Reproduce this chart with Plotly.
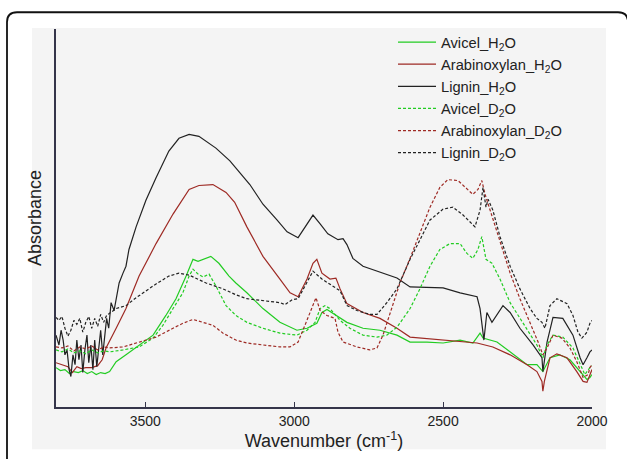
import plotly.graph_objects as go

# ---------------- data (wavenumber in cm-1, absorbance in arbitrary units) ----------------
lig_h2o_x = [3800, 3790, 3783, 3776, 3770, 3763, 3756, 3750, 3743, 3736, 3730, 3723, 3716, 3710, 3703,
             3696, 3690, 3683, 3676, 3670, 3663, 3656, 3650, 3643, 3636, 3630, 3623, 3615, 3605, 3588,
             3575, 3565, 3555, 3531, 3498, 3464, 3421, 3387, 3353, 3320, 3263, 3216, 3149, 3105, 3058,
             3024, 2987, 2957, 2937, 2913, 2887, 2853, 2836, 2823, 2803, 2769, 2722, 2655, 2611, 2500,
             2443, 2386, 2376, 2363, 2353, 2336, 2299, 2275, 2242, 2198, 2168, 2165, 2151, 2131, 2098,
             2064, 2040, 2030, 2017, 2007, 2000]
lig_h2o_y = [0.73, 0.63, 0.78, 0.68, 0.53, 0.58, 0.38, 0.31, 0.53, 0.43, 0.68, 0.48, 0.63, 0.35, 0.58,
             0.73, 0.45, 0.63, 0.38, 0.68, 0.41, 0.65, 0.78, 0.53, 0.73, 0.90, 0.80, 1.06, 0.98, 1.26,
             1.36, 1.43, 1.60, 1.83, 2.10, 2.33, 2.60, 2.73, 2.77, 2.75, 2.63, 2.50, 2.26, 2.06, 1.90,
             1.78, 1.72, 1.86, 1.95, 1.86, 1.76, 1.70, 1.71, 1.65, 1.51, 1.43, 1.38, 1.31, 1.22, 1.21,
             1.16, 1.12, 1.00, 0.68, 0.96, 0.86, 1.03, 0.96, 0.80, 0.63, 0.50, 0.36, 0.66, 0.91, 0.90,
             0.73, 0.50, 0.43, 0.50, 0.56, 0.58]

arab_h2o_x = [3800, 3780, 3760, 3745, 3730, 3715, 3700, 3680, 3660, 3645, 3632, 3598, 3565, 3521, 3464,
              3407, 3353, 3320, 3273, 3229, 3200, 3159, 3105, 3048, 3014, 2987, 2957, 2937, 2924, 2907,
              2880, 2860, 2846, 2823, 2769, 2712, 2655, 2611, 2500, 2386, 2333, 2275, 2218, 2185, 2168,
              2165, 2160, 2141, 2118, 2084, 2051, 2030, 2017, 2007, 2000]
arab_h2o_y = [0.45, 0.43, 0.41, 0.35, 0.41, 0.39, 0.40, 0.40, 0.42, 0.48, 0.60, 0.80, 1.00, 1.33, 1.66,
              1.96, 2.21, 2.25, 2.26, 2.18, 2.08, 1.83, 1.53, 1.30, 1.16, 1.12, 1.30, 1.46, 1.50, 1.36,
              1.30, 1.31, 1.20, 1.05, 0.96, 0.90, 0.80, 0.71, 0.68, 0.65, 0.61, 0.53, 0.43, 0.36, 0.26,
              0.16, 0.26, 0.50, 0.54, 0.50, 0.36, 0.26, 0.25, 0.33, 0.38]

avi_h2o_x = [3800, 3785, 3770, 3755, 3740, 3725, 3710, 3695, 3680, 3665, 3650, 3635, 3620, 3598, 3565,
             3521, 3474, 3431, 3397, 3363, 3340, 3323, 3306, 3280, 3253, 3219, 3196, 3159, 3105, 3048,
             2991, 2957, 2924, 2907, 2890, 2870, 2823, 2769, 2712, 2655, 2611, 2554, 2500, 2443, 2400,
             2376, 2366, 2319, 2275, 2218, 2185, 2165, 2141, 2108, 2074, 2040, 2017, 2007, 2000]
avi_h2o_y = [0.40, 0.37, 0.38, 0.34, 0.36, 0.35, 0.37, 0.34, 0.36, 0.33, 0.35, 0.34, 0.36, 0.46, 0.53,
             0.63, 0.73, 0.93, 1.10, 1.33, 1.50, 1.48, 1.50, 1.53, 1.46, 1.33, 1.26, 1.16, 1.00, 0.86,
             0.78, 0.80, 0.85, 0.96, 0.99, 0.95, 0.86, 0.80, 0.78, 0.73, 0.66, 0.66, 0.65, 0.68, 0.65,
             0.75, 0.70, 0.66, 0.56, 0.43, 0.43, 0.36, 0.50, 0.53, 0.48, 0.36, 0.28, 0.30, 0.33]

avi_d2o_x = [3800, 3780, 3760, 3740, 3720, 3700, 3680, 3660, 3640, 3620, 3575, 3521, 3474, 3441, 3407,
             3374, 3353, 3340, 3323, 3306, 3286, 3263, 3229, 3196, 3159, 3105, 3048, 2991, 2957, 2930,
             2913, 2897, 2880, 2846, 2813, 2769, 2722, 2689, 2655, 2611, 2578, 2544, 2511, 2477, 2443,
             2420, 2400, 2383, 2370, 2356, 2336, 2309, 2275, 2242, 2208, 2185, 2165, 2151, 2131, 2098,
             2064, 2040, 2024, 2007, 2000]
avi_d2o_y = [0.58, 0.56, 0.59, 0.55, 0.57, 0.54, 0.58, 0.55, 0.57, 0.56, 0.58, 0.61, 0.70, 0.83, 1.00,
             1.16, 1.33, 1.40, 1.35, 1.32, 1.35, 1.23, 1.03, 0.93, 0.86, 0.80, 0.75, 0.73, 0.78, 0.86,
             1.00, 1.03, 1.00, 0.88, 0.80, 0.73, 0.71, 0.73, 0.81, 1.00, 1.20, 1.43, 1.60, 1.66, 1.66,
             1.56, 1.51, 1.60, 1.73, 1.50, 1.46, 1.30, 1.06, 0.90, 0.73, 0.63, 0.50, 0.63, 0.73, 0.71,
             0.60, 0.43, 0.33, 0.40, 0.42]

arab_d2o_x = [3800, 3780, 3760, 3740, 3720, 3700, 3680, 3660, 3640, 3620, 3575, 3521, 3464, 3407, 3374,
              3340, 3306, 3273, 3239, 3196, 3159, 3105, 3048, 3014, 2987, 2964, 2940, 2927, 2913, 2890,
              2863, 2853, 2836, 2789, 2746, 2722, 2702, 2678, 2645, 2611, 2578, 2544, 2511, 2484, 2450,
              2420, 2400, 2383, 2370, 2359, 2343, 2309, 2275, 2242, 2208, 2181, 2165, 2151, 2131, 2101,
              2074, 2051, 2030, 2013, 2007, 2000]
arab_d2o_y = [0.61, 0.60, 0.62, 0.57, 0.61, 0.59, 0.62, 0.58, 0.61, 0.60, 0.61, 0.66, 0.71, 0.80, 0.85,
              0.89, 0.86, 0.83, 0.75, 0.68, 0.65, 0.63, 0.61, 0.61, 0.66, 0.83, 1.01, 1.11, 0.98, 0.93,
              0.90, 0.76, 0.66, 0.61, 0.58, 0.60, 0.73, 0.96, 1.26, 1.51, 1.76, 2.03, 2.23, 2.31, 2.30,
              2.21, 2.16, 2.21, 2.30, 2.16, 2.01, 1.70, 1.36, 1.10, 0.86, 0.66, 0.53, 0.60, 0.73, 0.70,
              0.60, 0.46, 0.30, 0.33, 0.40, 0.43]

lig_d2o_x = [3800, 3790, 3780, 3770, 3760, 3750, 3740, 3730, 3720, 3710, 3700, 3690, 3680, 3670, 3660,
             3650, 3640, 3630, 3598, 3565, 3531, 3498, 3464, 3421, 3387, 3353, 3296, 3239, 3196, 3159,
             3105, 3048, 3031, 3007, 2987, 2957, 2937, 2907, 2880, 2846, 2823, 2789, 2746, 2722, 2689,
             2655, 2611, 2578, 2544, 2500, 2467, 2433, 2393, 2376, 2366, 2356, 2349, 2333, 2309, 2275,
             2242, 2208, 2185, 2168, 2158, 2141, 2118, 2084, 2064, 2047, 2034, 2017, 2007, 2000]
lig_d2o_y = [0.91, 0.88, 0.92, 0.80, 0.72, 0.78, 0.88, 0.84, 0.90, 0.76, 0.86, 0.92, 0.80, 0.90, 0.82,
             0.94, 0.86, 0.93, 1.00, 1.03, 1.11, 1.18, 1.25, 1.33, 1.36, 1.34, 1.26, 1.20, 1.14, 1.10,
             1.08, 1.06, 1.04, 1.09, 1.10, 1.26, 1.38, 1.30, 1.25, 1.18, 1.03, 0.98, 0.94, 0.94, 1.06,
             1.20, 1.50, 1.70, 1.90, 2.01, 2.03, 1.95, 1.83, 2.00, 2.23, 2.03, 2.11, 2.00, 1.73, 1.43,
             1.20, 1.00, 0.90, 0.86, 0.80, 1.03, 1.10, 1.05, 0.93, 0.76, 0.70, 0.76, 0.85, 0.88]

x_ticks = [3500, 3000, 2500, 2000]

GREEN = "#22cc22"
RED = "#9e2a24"
BLACK = "#222222"
DASH = "3px,2px"

series = [
    ("Avicel_H<sub>2</sub>O", avi_h2o_x, avi_h2o_y, GREEN, "solid"),
    ("Arabinoxylan_H<sub>2</sub>O", arab_h2o_x, arab_h2o_y, RED, "solid"),
    ("Lignin_H<sub>2</sub>O", lig_h2o_x, lig_h2o_y, BLACK, "solid"),
    ("Avicel_D<sub>2</sub>O", avi_d2o_x, avi_d2o_y, GREEN, DASH),
    ("Arabinoxylan_D<sub>2</sub>O", arab_d2o_x, arab_d2o_y, RED, DASH),
    ("Lignin_D<sub>2</sub>O", lig_d2o_x, lig_d2o_y, BLACK, DASH),
]

fig = go.Figure()
for name, xs, ys, col, dash in series:
    fig.add_trace(go.Scatter(x=xs, y=ys, mode="lines", name=name,
                             line=dict(color=col, width=1.2, dash=dash)))

W, H = 627, 459
L, R, T, B = 56, 35, 29, 46
pw, ph = W - L - R, H - T - B

def px(v):
    return (v - L) / pw

def py(v):
    return (H - B - v) / ph

# grey panel
shapes = [dict(type="rect", xref="paper", yref="paper", x0=px(32), x1=px(606), y0=py(456), y1=py(28),
               fillcolor="#f4f4f4", line=dict(width=0), layer="below")]
# rounded outer frame
x0, x1, yt, yb = px(7), px(628), py(12), py(480)
rx, ry = 10 / pw, 10 / ph
path = (f"M {x0},{yb} L {x0},{yt - ry} Q {x0},{yt} {x0 + rx},{yt} "
        f"L {x1 - rx},{yt} Q {x1},{yt} {x1},{yt - ry} L {x1},{yb}")
shapes.append(dict(type="path", xref="paper", yref="paper", path=path,
                   line=dict(color="#111111", width=1.8), layer="above"))

AX = "#35354a"
fig.update_layout(
    width=W, height=H,
    margin=dict(l=L, r=R, t=T, b=B),
    paper_bgcolor="white", plot_bgcolor="#f4f4f4",
    font=dict(family="Liberation Sans, Arial, sans-serif", color="#222222"),
    shapes=shapes,
    showlegend=True,
    hovermode=False,
    legend=dict(x=px(393), y=py(26), xanchor="left", yanchor="top",
                bgcolor="rgba(0,0,0,0)", font=dict(size=14.7, color="#222222"),
                tracegroupgap=0, itemwidth=38),
    xaxis=dict(range=[3800, 2000], tickvals=x_ticks, ticks="inside", ticklen=5, tickcolor=AX,
               showline=True, linecolor=AX, linewidth=1.5, showgrid=False, zeroline=False,
               tickfont=dict(size=14, color="#222222"),
               title=dict(text="Wavenumber (cm<sup>-1</sup>)", font=dict(size=18), standoff=6)),
    yaxis=dict(range=[0, 3.84], showticklabels=False, ticks="", showline=True, linecolor=AX,
               linewidth=1.5, showgrid=False, zeroline=False,
               title=dict(text="Absorbance", font=dict(size=18), standoff=8)),
)

fig.write_html("out.html", config={"displayModeBar": False},
               post_script="document.body.style.margin='0';document.body.style.overflow='hidden';")
